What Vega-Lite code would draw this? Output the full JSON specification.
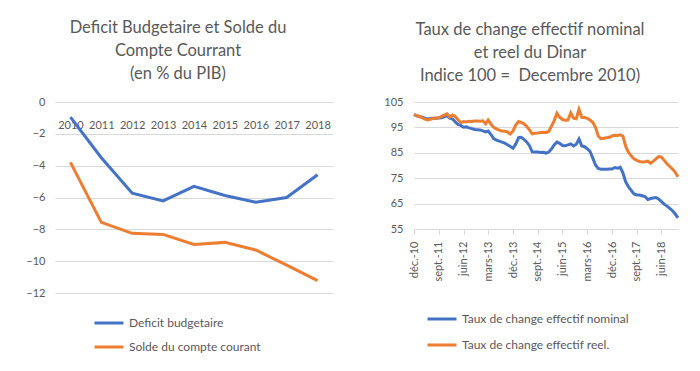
{
  "$schema": "https://vega.github.io/schema/vega-lite/v6.json",
  "background": "white",
  "padding": {"left": 5, "top": 19, "right": 5, "bottom": 5},
  "config": {
    "view": {"stroke": null},
    "font": "Lato",
    "title": {"font": "Lato", "fontSize": 16.5, "fontWeight": "normal", "color": "#595959", "lineHeight": 23},
    "axis": {"labelFont": "Lato", "labelFontSize": 11, "labelColor": "#595959", "gridColor": "#d9d9d9", "gridWidth": 1, "domainColor": "#d9d9d9", "tickColor": "#d9d9d9"},
    "legend": {"labelFont": "Lato", "labelFontSize": 12, "labelColor": "#595959", "labelLimit": 300, "symbolType": "stroke", "symbolStrokeWidth": 3, "symbolSize": 841, "rowPadding": 2, "labelOffset": 4, "title": null}
  },
  "datasets": {
    "budget": [
      {"year": "2010", "serie": "Deficit budgetaire", "value": -0.95},
      {"year": "2011", "serie": "Deficit budgetaire", "value": -3.5},
      {"year": "2012", "serie": "Deficit budgetaire", "value": -5.73},
      {"year": "2013", "serie": "Deficit budgetaire", "value": -6.21},
      {"year": "2014", "serie": "Deficit budgetaire", "value": -5.3},
      {"year": "2015", "serie": "Deficit budgetaire", "value": -5.87},
      {"year": "2016", "serie": "Deficit budgetaire", "value": -6.3},
      {"year": "2017", "serie": "Deficit budgetaire", "value": -6.0},
      {"year": "2018", "serie": "Deficit budgetaire", "value": -4.57},
      {"year": "2010", "serie": "Solde du compte courant", "value": -3.79},
      {"year": "2011", "serie": "Solde du compte courant", "value": -7.56},
      {"year": "2012", "serie": "Solde du compte courant", "value": -8.25},
      {"year": "2013", "serie": "Solde du compte courant", "value": -8.32},
      {"year": "2014", "serie": "Solde du compte courant", "value": -8.95},
      {"year": "2015", "serie": "Solde du compte courant", "value": -8.82},
      {"year": "2016", "serie": "Solde du compte courant", "value": -9.3},
      {"year": "2017", "serie": "Solde du compte courant", "value": -10.25},
      {"year": "2018", "serie": "Solde du compte courant", "value": -11.22}
    ],
    "change": [
      {"d": "2010-12-01", "s": "n", "v": 100}, {"d": "2011-01-01", "s": "n", "v": 99.6}, {"d": "2011-02-01", "s": "n", "v": 99.3}, {"d": "2011-03-01", "s": "n", "v": 99}, {"d": "2011-04-01", "s": "n", "v": 98.6}, {"d": "2011-05-01", "s": "n", "v": 98.3}, {"d": "2011-06-01", "s": "n", "v": 98.5}, {"d": "2011-07-01", "s": "n", "v": 98.6}, {"d": "2011-08-01", "s": "n", "v": 98.6}, {"d": "2011-09-01", "s": "n", "v": 98.7}, {"d": "2011-10-01", "s": "n", "v": 98.8}, {"d": "2011-11-01", "s": "n", "v": 99.2}, {"d": "2011-12-01", "s": "n", "v": 99.6},
      {"d": "2012-01-01", "s": "n", "v": 98.6}, {"d": "2012-02-01", "s": "n", "v": 98.3}, {"d": "2012-03-01", "s": "n", "v": 97.2}, {"d": "2012-04-01", "s": "n", "v": 96.2}, {"d": "2012-05-01", "s": "n", "v": 95.8}, {"d": "2012-06-01", "s": "n", "v": 95.1}, {"d": "2012-07-01", "s": "n", "v": 95.2}, {"d": "2012-08-01", "s": "n", "v": 94.8}, {"d": "2012-09-01", "s": "n", "v": 94.5}, {"d": "2012-10-01", "s": "n", "v": 94.2}, {"d": "2012-11-01", "s": "n", "v": 94.1}, {"d": "2012-12-01", "s": "n", "v": 94},
      {"d": "2013-01-01", "s": "n", "v": 93.6}, {"d": "2013-02-01", "s": "n", "v": 93.2}, {"d": "2013-03-01", "s": "n", "v": 93.6}, {"d": "2013-04-01", "s": "n", "v": 92.2}, {"d": "2013-05-01", "s": "n", "v": 90.6}, {"d": "2013-06-01", "s": "n", "v": 90}, {"d": "2013-07-01", "s": "n", "v": 89.6}, {"d": "2013-08-01", "s": "n", "v": 89.2}, {"d": "2013-09-01", "s": "n", "v": 88.8}, {"d": "2013-10-01", "s": "n", "v": 88.2}, {"d": "2013-11-01", "s": "n", "v": 87.5}, {"d": "2013-12-01", "s": "n", "v": 86.8},
      {"d": "2014-01-01", "s": "n", "v": 88.5}, {"d": "2014-02-01", "s": "n", "v": 91}, {"d": "2014-03-01", "s": "n", "v": 91.1}, {"d": "2014-04-01", "s": "n", "v": 90.3}, {"d": "2014-05-01", "s": "n", "v": 89.3}, {"d": "2014-06-01", "s": "n", "v": 87.8}, {"d": "2014-07-01", "s": "n", "v": 85.4}, {"d": "2014-08-01", "s": "n", "v": 85.3}, {"d": "2014-09-01", "s": "n", "v": 85.3}, {"d": "2014-10-01", "s": "n", "v": 85.1}, {"d": "2014-11-01", "s": "n", "v": 85.2}, {"d": "2014-12-01", "s": "n", "v": 84.9},
      {"d": "2015-01-01", "s": "n", "v": 85.3}, {"d": "2015-02-01", "s": "n", "v": 86.6}, {"d": "2015-03-01", "s": "n", "v": 88.1}, {"d": "2015-04-01", "s": "n", "v": 89.2}, {"d": "2015-05-01", "s": "n", "v": 88.7}, {"d": "2015-06-01", "s": "n", "v": 87.9}, {"d": "2015-07-01", "s": "n", "v": 87.8}, {"d": "2015-08-01", "s": "n", "v": 88.1}, {"d": "2015-09-01", "s": "n", "v": 88.5}, {"d": "2015-10-01", "s": "n", "v": 87.7}, {"d": "2015-11-01", "s": "n", "v": 88.4}, {"d": "2015-12-01", "s": "n", "v": 90.4},
      {"d": "2016-01-01", "s": "n", "v": 87.7}, {"d": "2016-02-01", "s": "n", "v": 87.4}, {"d": "2016-03-01", "s": "n", "v": 86.6}, {"d": "2016-04-01", "s": "n", "v": 85.6}, {"d": "2016-05-01", "s": "n", "v": 83}, {"d": "2016-06-01", "s": "n", "v": 80.2}, {"d": "2016-07-01", "s": "n", "v": 78.8}, {"d": "2016-08-01", "s": "n", "v": 78.5}, {"d": "2016-09-01", "s": "n", "v": 78.5}, {"d": "2016-10-01", "s": "n", "v": 78.5}, {"d": "2016-11-01", "s": "n", "v": 78.6}, {"d": "2016-12-01", "s": "n", "v": 78.6},
      {"d": "2017-01-01", "s": "n", "v": 79.2}, {"d": "2017-02-01", "s": "n", "v": 78.9}, {"d": "2017-03-01", "s": "n", "v": 79.3}, {"d": "2017-04-01", "s": "n", "v": 77}, {"d": "2017-05-01", "s": "n", "v": 73.5}, {"d": "2017-06-01", "s": "n", "v": 71.6}, {"d": "2017-07-01", "s": "n", "v": 70.2}, {"d": "2017-08-01", "s": "n", "v": 68.8}, {"d": "2017-09-01", "s": "n", "v": 68.4}, {"d": "2017-10-01", "s": "n", "v": 68.4}, {"d": "2017-11-01", "s": "n", "v": 68.1}, {"d": "2017-12-01", "s": "n", "v": 67.8},
      {"d": "2018-01-01", "s": "n", "v": 66.6}, {"d": "2018-02-01", "s": "n", "v": 67}, {"d": "2018-03-01", "s": "n", "v": 67.2}, {"d": "2018-04-01", "s": "n", "v": 67.4}, {"d": "2018-05-01", "s": "n", "v": 66.8}, {"d": "2018-06-01", "s": "n", "v": 65.8}, {"d": "2018-07-01", "s": "n", "v": 64.8}, {"d": "2018-08-01", "s": "n", "v": 64}, {"d": "2018-09-01", "s": "n", "v": 63.1}, {"d": "2018-10-01", "s": "n", "v": 62.2}, {"d": "2018-11-01", "s": "n", "v": 60.9}, {"d": "2018-12-01", "s": "n", "v": 59.4},
      {"d": "2010-12-01", "s": "r", "v": 100}, {"d": "2011-01-01", "s": "r", "v": 99.6}, {"d": "2011-02-01", "s": "r", "v": 99.3}, {"d": "2011-03-01", "s": "r", "v": 98.8}, {"d": "2011-04-01", "s": "r", "v": 98.3}, {"d": "2011-05-01", "s": "r", "v": 97.9}, {"d": "2011-06-01", "s": "r", "v": 98.2}, {"d": "2011-07-01", "s": "r", "v": 98.5}, {"d": "2011-08-01", "s": "r", "v": 98.7}, {"d": "2011-09-01", "s": "r", "v": 98.8}, {"d": "2011-10-01", "s": "r", "v": 99.3}, {"d": "2011-11-01", "s": "r", "v": 99.8}, {"d": "2011-12-01", "s": "r", "v": 100.3},
      {"d": "2012-01-01", "s": "r", "v": 99.1}, {"d": "2012-02-01", "s": "r", "v": 99.9}, {"d": "2012-03-01", "s": "r", "v": 99.3}, {"d": "2012-04-01", "s": "r", "v": 98}, {"d": "2012-05-01", "s": "r", "v": 96.9}, {"d": "2012-06-01", "s": "r", "v": 97.3}, {"d": "2012-07-01", "s": "r", "v": 97.1}, {"d": "2012-08-01", "s": "r", "v": 97.4}, {"d": "2012-09-01", "s": "r", "v": 97.3}, {"d": "2012-10-01", "s": "r", "v": 97.5}, {"d": "2012-11-01", "s": "r", "v": 97.5}, {"d": "2012-12-01", "s": "r", "v": 97.4},
      {"d": "2013-01-01", "s": "r", "v": 97.6}, {"d": "2013-02-01", "s": "r", "v": 96.4}, {"d": "2013-03-01", "s": "r", "v": 97.9}, {"d": "2013-04-01", "s": "r", "v": 96.3}, {"d": "2013-05-01", "s": "r", "v": 95}, {"d": "2013-06-01", "s": "r", "v": 94.4}, {"d": "2013-07-01", "s": "r", "v": 93.9}, {"d": "2013-08-01", "s": "r", "v": 93.6}, {"d": "2013-09-01", "s": "r", "v": 93.5}, {"d": "2013-10-01", "s": "r", "v": 93.2}, {"d": "2013-11-01", "s": "r", "v": 92.4}, {"d": "2013-12-01", "s": "r", "v": 93.6},
      {"d": "2014-01-01", "s": "r", "v": 96}, {"d": "2014-02-01", "s": "r", "v": 97.3}, {"d": "2014-03-01", "s": "r", "v": 97}, {"d": "2014-04-01", "s": "r", "v": 96.4}, {"d": "2014-05-01", "s": "r", "v": 95.4}, {"d": "2014-06-01", "s": "r", "v": 94}, {"d": "2014-07-01", "s": "r", "v": 92.5}, {"d": "2014-08-01", "s": "r", "v": 92.7}, {"d": "2014-09-01", "s": "r", "v": 92.8}, {"d": "2014-10-01", "s": "r", "v": 93}, {"d": "2014-11-01", "s": "r", "v": 93.1}, {"d": "2014-12-01", "s": "r", "v": 93},
      {"d": "2015-01-01", "s": "r", "v": 93.4}, {"d": "2015-02-01", "s": "r", "v": 95.6}, {"d": "2015-03-01", "s": "r", "v": 97.6}, {"d": "2015-04-01", "s": "r", "v": 100.6}, {"d": "2015-05-01", "s": "r", "v": 99}, {"d": "2015-06-01", "s": "r", "v": 98.1}, {"d": "2015-07-01", "s": "r", "v": 97.8}, {"d": "2015-08-01", "s": "r", "v": 97.9}, {"d": "2015-09-01", "s": "r", "v": 100.7}, {"d": "2015-10-01", "s": "r", "v": 98.6}, {"d": "2015-11-01", "s": "r", "v": 98.4}, {"d": "2015-12-01", "s": "r", "v": 102.1},
      {"d": "2016-01-01", "s": "r", "v": 99}, {"d": "2016-02-01", "s": "r", "v": 98.9}, {"d": "2016-03-01", "s": "r", "v": 98.6}, {"d": "2016-04-01", "s": "r", "v": 97.9}, {"d": "2016-05-01", "s": "r", "v": 97}, {"d": "2016-06-01", "s": "r", "v": 95}, {"d": "2016-07-01", "s": "r", "v": 91.6}, {"d": "2016-08-01", "s": "r", "v": 90.6}, {"d": "2016-09-01", "s": "r", "v": 90.7}, {"d": "2016-10-01", "s": "r", "v": 90.9}, {"d": "2016-11-01", "s": "r", "v": 91.1}, {"d": "2016-12-01", "s": "r", "v": 91.6},
      {"d": "2017-01-01", "s": "r", "v": 91.9}, {"d": "2017-02-01", "s": "r", "v": 91.8}, {"d": "2017-03-01", "s": "r", "v": 92.1}, {"d": "2017-04-01", "s": "r", "v": 91.5}, {"d": "2017-05-01", "s": "r", "v": 87.5}, {"d": "2017-06-01", "s": "r", "v": 85.2}, {"d": "2017-07-01", "s": "r", "v": 83.8}, {"d": "2017-08-01", "s": "r", "v": 82.6}, {"d": "2017-09-01", "s": "r", "v": 82}, {"d": "2017-10-01", "s": "r", "v": 81.6}, {"d": "2017-11-01", "s": "r", "v": 81.4}, {"d": "2017-12-01", "s": "r", "v": 81.5},
      {"d": "2018-01-01", "s": "r", "v": 81.7}, {"d": "2018-02-01", "s": "r", "v": 80.9}, {"d": "2018-03-01", "s": "r", "v": 81.6}, {"d": "2018-04-01", "s": "r", "v": 82.6}, {"d": "2018-05-01", "s": "r", "v": 83.5}, {"d": "2018-06-01", "s": "r", "v": 83.3}, {"d": "2018-07-01", "s": "r", "v": 82}, {"d": "2018-08-01", "s": "r", "v": 80.7}, {"d": "2018-09-01", "s": "r", "v": 79.6}, {"d": "2018-10-01", "s": "r", "v": 78.6}, {"d": "2018-11-01", "s": "r", "v": 77.3}, {"d": "2018-12-01", "s": "r", "v": 75.6}
    ]
  },
  "spacing": 50,
  "resolve": {"scale": {"color": "independent"}, "legend": {"color": "independent"}},
  "hconcat": [
    {
      "width": 278,
      "height": 191,
      "title": {"text": ["Deficit Budgetaire et Solde du", "Compte Courrant", "(en % du PIB)"], "anchor": "middle", "frame": "group", "dx": -16, "offset": 14},
      "data": {"name": "budget"},
      "mark": {"type": "line", "strokeWidth": 3},
      "encoding": {
        "x": {"field": "year", "type": "ordinal", "scale": {"type": "point", "padding": 0.5},
          "axis": {"orient": "bottom", "offset": -191, "title": null, "labelAngle": 0, "ticks": false, "grid": false, "domain": true, "labelPadding": 17}},
        "y": {"field": "value", "type": "quantitative", "scale": {"domain": [-12, 0], "nice": false},
          "axis": {"values": [0, -2, -4, -6, -8, -10, -12], "title": null, "domain": false, "ticks": false, "grid": true, "labelPadding": 10, "minExtent": 50}},
        "color": {"field": "serie", "type": "nominal",
          "scale": {"domain": ["Deficit budgetaire", "Solde du compte courant"], "range": ["#4472C4", "#ED7D31"]},
          "legend": {"orient": "none", "direction": "vertical", "legendX": 38, "legendY": 205}}
      }
    },
    {
      "width": 264,
      "height": 127,
      "title": {"text": ["Taux de change effectif nominal", "et reel du Dinar", "Indice 100 =\u00a0 Decembre 2010)"], "anchor": "middle", "frame": "group", "dx": -16, "offset": 12},
      "data": {"name": "change"},
      "mark": {"type": "line", "strokeWidth": 3},
      "encoding": {
        "x": {"field": "d", "type": "temporal",
          "scale": {"type": "utc", "domain": [{"year": 2010, "month": 12, "date": 1, "utc": true}, {"year": 2018, "month": 12, "date": 1, "utc": true}], "nice": false},
          "axis": {"title": null, "grid": false, "ticks": true, "tickSize": 5, "labelAngle": -90, "labelPadding": 7,
            "values": [
              {"year": 2010, "month": 12, "date": 1, "utc": true},
              {"year": 2011, "month": 9, "date": 1, "utc": true},
              {"year": 2012, "month": 6, "date": 1, "utc": true},
              {"year": 2013, "month": 3, "date": 1, "utc": true},
              {"year": 2013, "month": 12, "date": 1, "utc": true},
              {"year": 2014, "month": 9, "date": 1, "utc": true},
              {"year": 2015, "month": 6, "date": 1, "utc": true},
              {"year": 2016, "month": 3, "date": 1, "utc": true},
              {"year": 2016, "month": 12, "date": 1, "utc": true},
              {"year": 2017, "month": 9, "date": 1, "utc": true},
              {"year": 2018, "month": 6, "date": 1, "utc": true}
            ],
            "labelExpr": "['janv.','févr.','mars','avr.','mai','juin','juil.','août','sept.','oct.','nov.','déc.'][utcmonth(datum.value)] + '-' + utcFormat(datum.value, '%y')"}},
        "y": {"field": "v", "type": "quantitative", "scale": {"domain": [55, 105], "nice": false},
          "axis": {"values": [55, 65, 75, 85, 95, 105], "title": null, "domain": false, "ticks": false, "grid": true, "labelPadding": 11, "minExtent": 30}},
        "color": {"field": "s", "type": "nominal",
          "scale": {"domain": ["n", "r"], "range": ["#4472C4", "#ED7D31"]},
          "legend": {"orient": "none", "direction": "vertical", "legendX": 12, "legendY": 201, "rowPadding": 4,
            "labelExpr": "datum.label == 'n' ? 'Taux de change effectif nominal' : 'Taux de change effectif reel.'"}}
      }
    }
  ]
}
